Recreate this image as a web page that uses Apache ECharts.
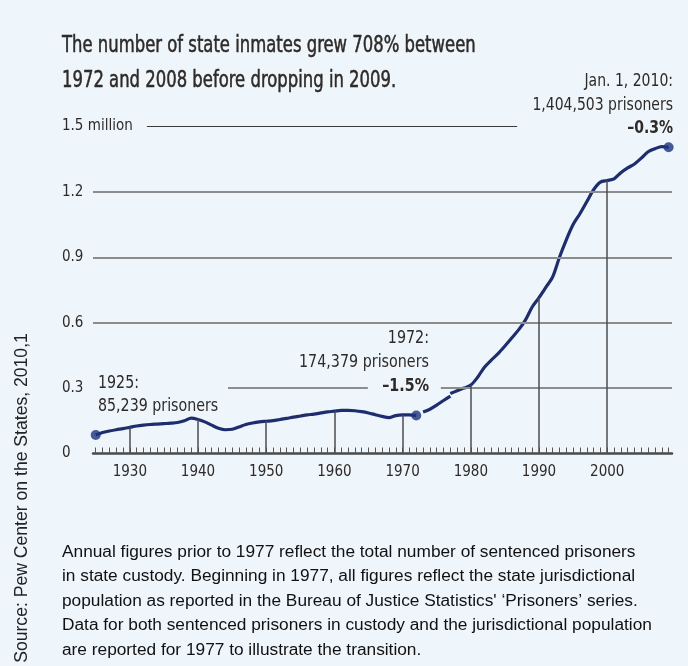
<!DOCTYPE html>
<html><head><meta charset="utf-8">
<script src="https://cdn.jsdelivr.net/npm/echarts@6/dist/echarts.min.js"></script>
<style>html,body{margin:0;padding:0;background:#eef5fb}#c{width:688px;height:666px}</style>
</head><body><div id="c"></div>
<script>
// Sentenced prisoners in state custody, 1925-1972 (millions)
const yearsA = [1925,1926,1927,1928,1929,1930,1931,1932,1933,1934,1935,1936,1937,1938,1939,1940,1941,1942,1943,1944,1945,1946,1947,1948,1949,1950,1951,1952,1953,1954,1955,1956,1957,1958,1959,1960,1961,1962,1963,1964,1965,1966,1967,1968,1969,1970,1971,1972];
const valuesA = [0.085,0.096,0.103,0.109,0.114,0.120,0.126,0.130,0.133,0.135,0.137,0.139,0.142,0.150,0.162,0.156,0.145,0.130,0.116,0.109,0.111,0.122,0.133,0.140,0.145,0.148,0.151,0.156,0.161,0.167,0.172,0.177,0.181,0.186,0.191,0.194,0.198,0.198,0.196,0.192,0.186,0.178,0.170,0.165,0.174,0.177,0.177,0.174];
// Sentenced prisoners in custody, 1973-1977
const yearsB = [1973,1974,1975,1976,1977];
const valuesB = [0.190,0.203,0.222,0.243,0.263];
// Jurisdictional population, 1977-2009 (Jan. 1, 2010)
const yearsC = [1977,1978,1979,1980,1981,1982,1983,1984,1985,1986,1987,1988,1989,1990,1991,1992,1993,1994,1995,1996,1997,1998,1999,2000,2001,2002,2003,2004,2005,2006,2007,2008,2009];
const valuesC = [0.275,0.288,0.300,0.314,0.350,0.396,0.428,0.458,0.493,0.530,0.567,0.612,0.672,0.715,0.762,0.810,0.900,0.980,1.050,1.100,1.155,1.210,1.245,1.252,1.260,1.288,1.310,1.328,1.355,1.384,1.398,1.408,1.4045];
const decadeLabels = [1930,1940,1950,1960,1970,1980,1990,2000];

const COND = "'DejaVu Sans Condensed','Liberation Sans Narrow',sans-serif";
const TXT = '#2e2a28';
const LINE = '#1e2d6e';
const xMin = 1924.6, xMax = 2009.5;

const tickYears = [];
for (let y = yearsA[0]; y <= yearsC[yearsC.length-1]; y++) tickYears.push(y);
function valAt(y){
  let i = yearsA.indexOf(y); if (i >= 0) return valuesA[i];
  i = yearsC.indexOf(y); if (i >= 0) return valuesC[i];
  i = yearsB.indexOf(y); return valuesB[i];
}
const pairs = (ys, vs) => ys.map((y,i)=>[y, vs[i]]);

const gridStyle = {color:'#8c8c8c', width:2, type:'solid'};
const gridLines = [
  [{coord:[xMin,1.2]},{coord:[xMax,1.2]}],
  [{coord:[xMin,0.9]},{coord:[xMax,0.9]}],
  [{coord:[xMin,0.6]},{coord:[xMax,0.6]}],
  [{coord:[1944.4,0.3]},{coord:[1964.9,0.3]}],
  [{coord:[1975.6,0.3]},{coord:[xMax,0.3]}],
  [{coord:[1932.5,1.5], lineStyle:{color:'#3a3a3a', width:1.2}},{coord:[1986.8,1.5]}]
];
const dropLines = decadeLabels.map(d => [{coord:[d,0]},{coord:[d,valAt(d)]}]);

const chart = echarts.init(document.getElementById('c'));
chart.setOption({
  backgroundColor:'#eef5fb',
  animation:false,
  grid:{left:93, right:16, top:126.5, bottom:212.5, containLabel:false},
  xAxis:{
    type:'value', min:xMin, max:xMax,
    axisLine:{show:true, lineStyle:{color:'#4a4a4a', width:2.5}},
    axisTick:{show:true, inside:true, length:6, lineStyle:{color:'#555', width:1}, customValues:tickYears},
    axisLabel:{customValues:decadeLabels, formatter:v => String(v), fontFamily:COND, fontSize:15, color:TXT, margin:11},
    splitLine:{show:false}
  },
  yAxis:{
    type:'value', min:0, max:1.5, interval:0.3,
    axisLine:{show:false}, axisTick:{show:false}, splitLine:{show:false},
    axisLabel:{
      align:'left', margin:31, fontFamily:COND, fontSize:15, color:TXT,
      formatter:v => Math.abs(v-1.5)<1e-6 ? '1.5 million' : (v===0 ? '0' : v.toFixed(1))
    }
  },
  series:[
    {type:'line', data:[], silent:true, z:1,
     markLine:{silent:true, symbol:'none', label:{show:false}, lineStyle:gridStyle, data:gridLines}},
    {type:'line', data:[], silent:true, z:1,
     markLine:{silent:true, symbol:'none', label:{show:false}, lineStyle:{color:'#4d4d4d', width:1.5, type:'solid'}, data:dropLines}},
    {type:'line', data:pairs(yearsA, valuesA), showSymbol:false, smooth:0.3, z:3,
     lineStyle:{color:LINE, width:3.2}},
    {type:'line', data:pairs(yearsB, valuesB), showSymbol:false, smooth:0.3, z:3,
     lineStyle:{color:LINE, width:3.2}},
    {type:'line', data:pairs(yearsC, valuesC), showSymbol:false, smooth:0.3, z:3,
     lineStyle:{color:LINE, width:3.2}},
    {type:'scatter', z:4, symbolSize:10, itemStyle:{color:'#1d3380'},
     data:[[yearsA[0],valuesA[0]],[yearsA[yearsA.length-1],valuesA[valuesA.length-1]],[yearsC[yearsC.length-1],valuesC[valuesC.length-1]]]}
  ],
  graphic:[
    {type:'text', x:62, y:29, scaleX:0.795, style:{text:'The number of state inmates grew 708% between\n1972 and 2008 before dropping in 2009.', align:'left', verticalAlign:'top',
      font:'23px '+COND, fill:TXT, stroke:TXT, lineWidth:0.5, lineHeight:35}},
    {type:'text', x:673, y:70, scaleX:0.915, style:{text:'Jan. 1, 2010:\n1,404,503 prisoners\n{b|–0.3%}', align:'right', verticalAlign:'top',
      font:'17px '+COND, fill:TXT, lineHeight:23.5, rich:{b:{fontWeight:'bold', fontSize:17, fontFamily:COND, fill:TXT, lineHeight:23.5}}}},
    {type:'text', x:98, y:371.5, scaleX:0.93, style:{text:'1925:\n85,239 prisoners', align:'left', verticalAlign:'top',
      font:'17px '+COND, fill:TXT, lineHeight:23.5}},
    {type:'text', x:429, y:327, scaleX:0.935, style:{text:'1972:\n174,379 prisoners\n{b|–1.5%}', align:'right', verticalAlign:'top',
      font:'17px '+COND, fill:TXT, lineHeight:24, rich:{b:{fontWeight:'bold', fontSize:17, fontFamily:COND, fill:TXT, lineHeight:24}}}},
    {type:'text', x:22, y:498, rotation:Math.PI/2, style:{text:'Source: Pew Center on the States, 2010,1', align:'center', verticalAlign:'middle',
      font:'17.6px "Liberation Sans", Arial, sans-serif', fill:'#222'}},
    {type:'text', x:62, y:539.5, style:{text:"Annual figures prior to 1977 reflect the total number of sentenced prisoners\nin state custody. Beginning in 1977, all figures reflect the state jurisdictional\npopulation as reported in the Bureau of Justice Statistics' ‘Prisoners’ series.\nData for both sentenced prisoners in custody and the jurisdictional population\nare reported for 1977 to illustrate the transition.",
      align:'left', verticalAlign:'top', font:'17.3px "Liberation Sans", Arial, sans-serif', fill:'#111', lineHeight:24.5}}
  ]
});
</script></body></html>
